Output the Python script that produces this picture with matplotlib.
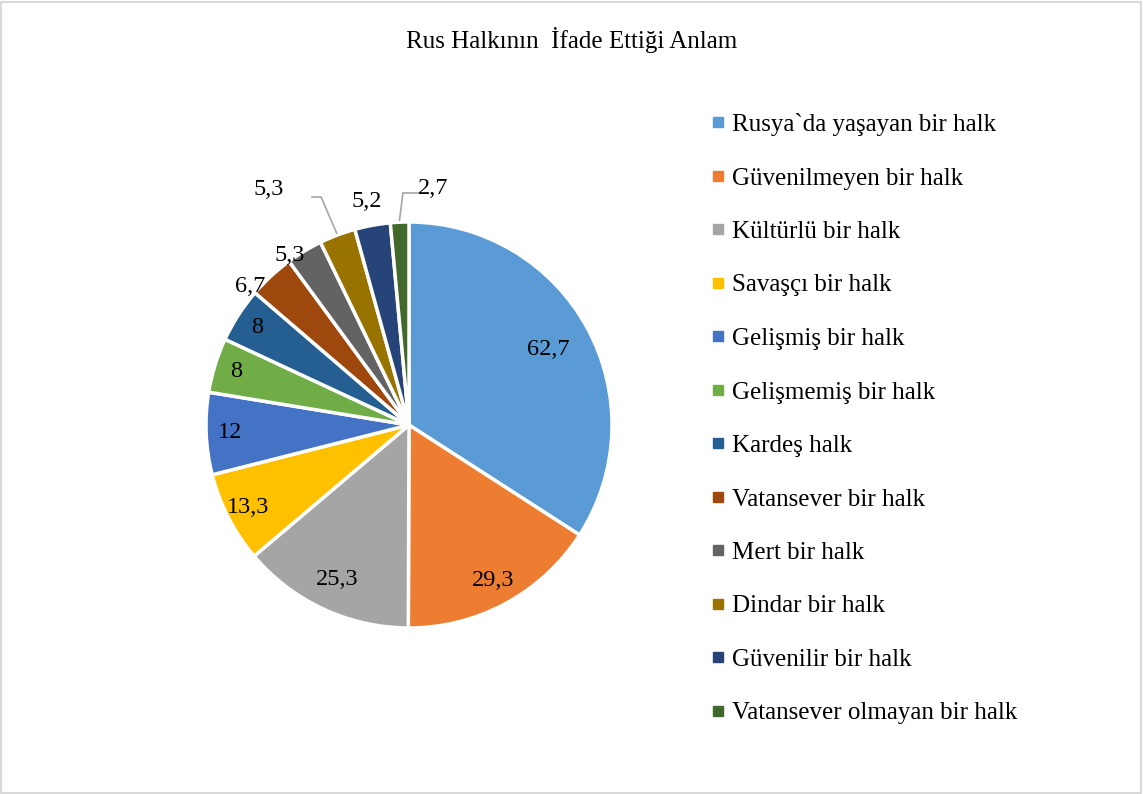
import matplotlib
matplotlib.use("Agg")
import matplotlib.pyplot as plt
from matplotlib.patches import Rectangle
from matplotlib.lines import Line2D
import numpy as np

plt.rcParams['font.family'] = ['Liberation Serif', 'DejaVu Serif']

# chart data
title = "Rus Halkının  İfade Ettiği Anlam"
categories = ["Rusya`da yaşayan bir halk", "Güvenilmeyen bir halk", "Kültürlü bir halk",
              "Savaşçı bir halk", "Gelişmiş bir halk", "Gelişmemiş bir halk", "Kardeş halk",
              "Vatansever bir halk", "Mert bir halk", "Dindar bir halk", "Güvenilir bir halk",
              "Vatansever olmayan bir halk"]
values = [62.7, 29.3, 25.3, 13.3, 12, 8, 8, 6.7, 5.3, 5.3, 5.2, 2.7]
value_labels = ["62,7", "29,3", "25,3", "13,3", "12", "8", "8", "6,7", "5,3", "5,3", "5,2", "2,7"]

# office palette
colors = ['#5B9BD5', '#ED7D31', '#A5A5A5', '#FFC000', '#4472C4', '#70AD47',
          '#255E91', '#9E480E', '#636363', '#997300', '#264478', '#43682B']

# label placement (style): radial fraction for inside labels,
# explicit spots for the outside ones
inside_r = [0.78, 0.87, 0.84, 0.89, 0.88, 0.89, 0.89]
outside_xy = {7: (-0.783, 0.680), 8: (-0.586, 0.837), 9: (-0.69, 1.16),
              10: (-0.207, 1.103), 11: (0.12, 1.163)}
leaders = {9: [(-0.478, 1.123), (-0.433, 1.123)], 11: [(0.055, 1.143), (-0.03, 1.143)]}

fig = plt.figure(figsize=(11.43, 7.94), dpi=100)
W, H = 1143, 794
cx, cy, R = 409, 425, 203
ax = fig.add_axes([(cx - R) / W, (H - cy - R) / H, 2 * R / W, 2 * R / H])

wedges, _ = ax.pie(values, colors=colors, startangle=90, counterclock=False,
                   radius=1.0, wedgeprops=dict(edgecolor='white', linewidth=2.5))
ax.set_xlim(-1, 1)
ax.set_ylim(-1, 1)
ax.set_aspect('equal')
ax.axis('off')

for i, w in enumerate(wedges):
    mid = np.deg2rad((w.theta1 + w.theta2) / 2)
    if i < len(inside_r):
        r = inside_r[i]
        x, y = r * np.cos(mid), r * np.sin(mid)
    else:
        x, y = outside_xy[i]
    ax.text(x, y, value_labels[i], ha='center', va='center', fontsize=17.5,
            color='#000000', clip_on=False)
    if i in leaders:
        ex, ey = 1.01 * np.cos(mid), 1.01 * np.sin(mid)
        pts = leaders[i] + [(ex, ey)]
        ax.plot([p[0] for p in pts], [p[1] for p in pts], color='#A6A6A6',
                lw=1.2, clip_on=False)

fig.text(0.5, 1 - 40 / H, title, ha='center', va='center', fontsize=18)

handles = [Line2D([], [], ls='none', marker='s', markersize=6.5, color=c) for c in colors]
leg = fig.legend(handles, categories, loc='upper left',
                 bbox_to_anchor=(700 / W, 1 - 103 / H), frameon=False,
                 fontsize=18, handlelength=0.6, handletextpad=0.27,
                 labelspacing=1.24, borderaxespad=0)

fig.patches.append(Rectangle((0.001, 0.001), 0.997, 0.997, transform=fig.transFigure,
                             fill=False, edgecolor='#D9D9D9', lw=1.5))

fig.savefig("out.png", dpi=100)
